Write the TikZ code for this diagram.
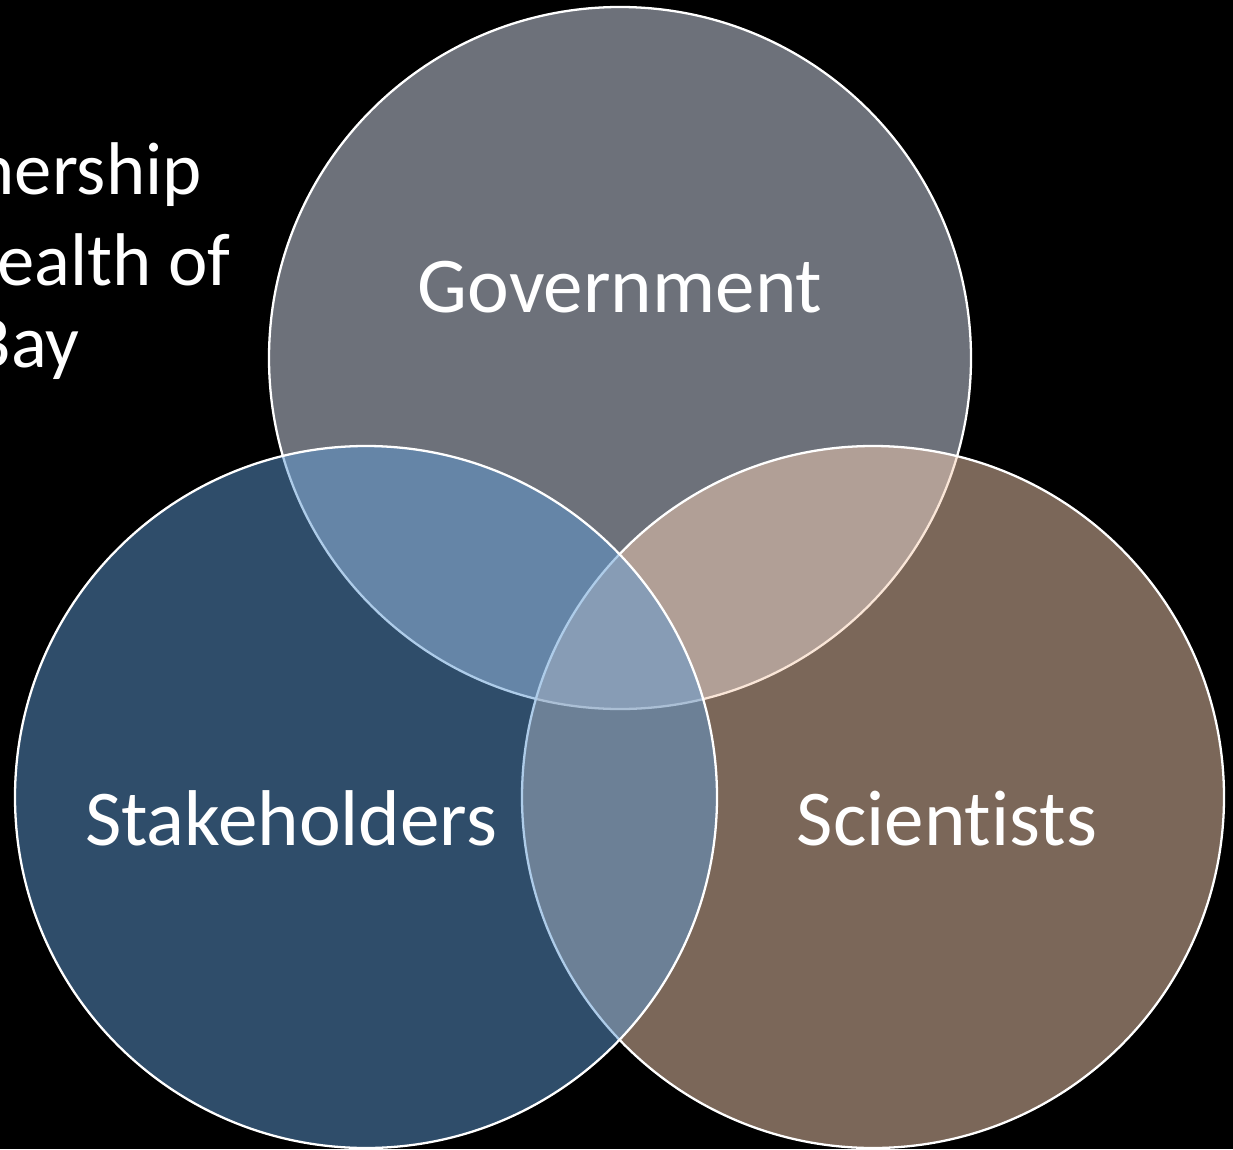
\documentclass[tikz,border=0pt]{standalone}
\usepackage{fontspec}
\setmainfont{Carlito}[Ligatures={NoCommon,NoContextual,NoRare},Contextuals={NoAlternate}]
\begin{document}
\begin{tikzpicture}[x=0.02cm,y=-0.02cm,
    venn/.style={draw=white,line width=1.3pt,fill opacity=0.5},
    lbl/.style={text=white,font=\fontsize{45}{54}\selectfont,anchor=base},
    side/.style={text=white,font=\fontsize{42.5}{51}\selectfont,anchor=base east,inner sep=0pt}]
      \fill[black] (0,0) rectangle (1233,1149) ;
      \useasboundingbox (0,0) rectangle (1233,1149) ;
      \clip (0,0) rectangle (1233,1149) ;
      % text cut off at the left edge
      \node[side] (t1) at (202,194) {nership} ;
      \node[side] (t2) at (231,285) {ealth of} ;
      \node[side] (t3) at (80,367) {Bay} ;
      % the three circles
      \draw[venn,fill={rgb,255:red,218;green,226;blue,244}] (620,358) circle (351) ;
      \draw[venn,fill={rgb,255:red,246;green,206;blue,178}] (873,797) circle (351) ;
      \draw[venn,fill={rgb,255:red,94;green,154;blue,212}] (366,797) circle (351) ;
      \node[lbl] (gov) at (620,312) {Government} ;
      \node[lbl] (stake) at (291,845) {Stakeholders} ;
      \node[lbl] (sci) at (947,845) {Scient\kern0pt ists} ;
    \end{tikzpicture}
\end{document}
